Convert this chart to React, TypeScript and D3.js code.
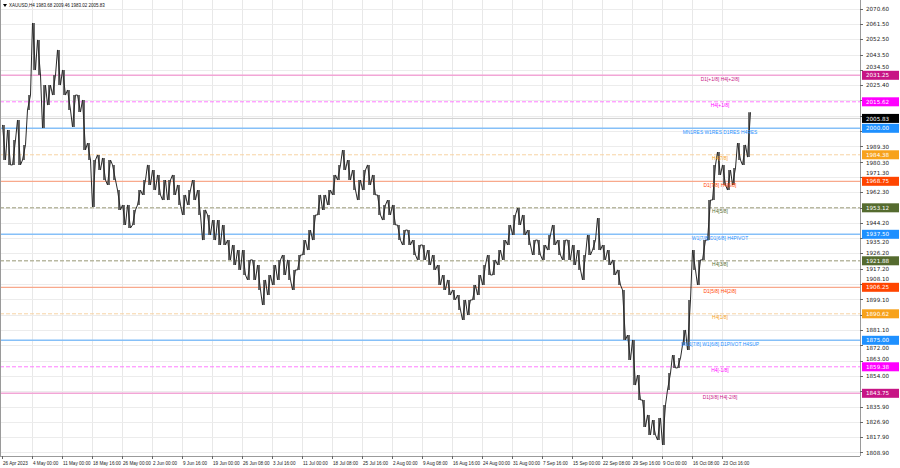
import React from 'react';
import * as d3 from 'd3';

// ---- data ----
const symbolTitle = 'XAUUSD,H4';
const lastBarOHLC = [1983.68, 2009.46, 1983.02, 2005.83];
const barsPerSample = 5;
const highs = [
  2002.0, 1999.0, 1993.1, 2004.9, 1990.2, 2019.6, 2062.1, 2052.1, 2025.5, 2025.5,
  2031.4, 2046.2, 2034.4, 2022.6, 2019.6, 2019.6, 2016.7, 1991.3, 1981.3, 1984.3,
  1982.5, 1981.3, 1978.4, 1963.6, 1954.8, 1954.8, 1951.9, 1963.6, 1969.5, 1978.4,
  1975.4, 1972.5, 1969.5, 1969.5, 1972.5, 1966.6, 1960.7, 1963.6, 1969.5, 1963.6,
  1951.9, 1948.9, 1945.9, 1945.9, 1943.0, 1934.1, 1931.2, 1928.2, 1928.2, 1922.4,
  1922.4, 1919.4, 1910.6, 1913.5, 1919.4, 1922.4, 1925.3, 1922.4, 1916.5, 1925.3,
  1934.1, 1940.0, 1948.9, 1960.7, 1960.7, 1963.6, 1972.5, 1978.4, 1987.2, 1981.3,
  1975.4, 1969.5, 1975.4, 1978.4, 1972.5, 1960.7, 1954.8, 1957.7, 1954.8, 1943.0,
  1940.0, 1940.0, 1934.1, 1931.2, 1931.2, 1928.2, 1925.3, 1919.4, 1913.5, 1910.6,
  1904.7, 1901.7, 1898.8, 1898.8, 1907.6, 1913.5, 1919.4, 1925.3, 1922.4, 1928.2,
  1934.1, 1943.0, 1948.9, 1953.0, 1948.9, 1940.0, 1934.1, 1934.1, 1931.2, 1937.1,
  1943.0, 1934.1, 1934.1, 1934.1, 1931.2, 1928.2, 1925.3, 1937.1, 1934.1, 1947.1,
  1931.2, 1928.2, 1922.4, 1916.5, 1904.7, 1878.1, 1875.2, 1854.5, 1839.8, 1831.0,
  1828.0, 1829.2, 1836.9, 1855.7, 1866.3, 1864.5, 1881.1, 1898.8, 1928.2, 1922.4,
  1934.1, 1957.7, 1978.4, 1986.0, 1978.4, 1975.4, 1976.6, 1991.3, 1990.2, 2009.46,
];
const lows = [
  1981.3, 1978.4, 1978.4, 1978.4, 1981.3, 2010.8, 2034.4, 2031.4, 2000.2, 2013.7,
  2019.6, 2025.5, 2019.6, 2010.8, 2000.8, 2009.6, 1987.2, 1981.3, 1953.6, 1975.4,
  1969.5, 1966.6, 1969.5, 1951.9, 1943.0, 1941.2, 1943.0, 1954.8, 1960.7, 1966.6,
  1963.6, 1960.7, 1957.7, 1957.7, 1960.7, 1954.8, 1948.9, 1954.8, 1957.7, 1948.9,
  1934.1, 1937.1, 1934.1, 1931.2, 1931.2, 1922.4, 1919.4, 1916.5, 1913.5, 1910.6,
  1910.6, 1904.7, 1895.8, 1901.7, 1907.6, 1910.6, 1913.5, 1910.6, 1904.7, 1916.5,
  1925.3, 1928.2, 1934.1, 1948.9, 1951.9, 1954.8, 1960.7, 1969.5, 1975.4, 1969.5,
  1963.6, 1957.7, 1963.6, 1966.6, 1960.7, 1948.9, 1945.9, 1948.9, 1943.0, 1934.1,
  1931.2, 1931.2, 1925.3, 1922.4, 1922.4, 1919.4, 1916.5, 1907.6, 1904.7, 1901.7,
  1898.8, 1892.9, 1887.0, 1889.9, 1898.8, 1901.7, 1907.6, 1913.5, 1913.5, 1919.4,
  1922.4, 1931.2, 1937.1, 1943.0, 1937.1, 1931.2, 1925.3, 1925.3, 1922.4, 1928.2,
  1931.2, 1925.3, 1922.4, 1922.4, 1919.4, 1916.5, 1910.6, 1925.3, 1928.2, 1928.2,
  1922.4, 1919.4, 1913.5, 1907.6, 1875.2, 1863.4, 1848.6, 1839.8, 1823.9, 1819.2,
  1819.2, 1816.2, 1813.3, 1845.7, 1858.7, 1858.7, 1872.2, 1869.3, 1916.5, 1907.6,
  1922.4, 1934.1, 1957.7, 1972.5, 1966.6, 1963.6, 1966.6, 1981.3, 1978.4, 1983.02,
];

const priceTicks = [
  2070.6, 2061.5, 2052.5, 2043.5, 2034.5, 2025.4, 2016.4, 2007.4, 1998.4, 1989.3,
  1980.3, 1971.3, 1962.3, 1953.2, 1944.2, 1935.2, 1926.2, 1917.2, 1908.1, 1899.1,
  1890.1, 1881.1, 1872.0, 1863.0, 1854.0, 1845.0, 1835.9, 1826.9, 1817.9, 1808.9,
];

const timeTickBars = [0, 30, 60, 90, 120, 150, 180, 210, 240, 270, 300, 330, 360, 390, 420, 450, 480, 510, 540, 570, 600, 630, 660, 690, 720];
const timeLabels = [
  '26 Apr 2023', '4 May 00:00', '11 May 00:00', '18 May 16:00', '26 May 00:00', '2 Jun 00:00',
  '9 Jun 16:00', '19 Jun 00:00', '26 Jun 08:00', '3 Jul 16:00', '11 Jul 00:00', '18 Jul 08:00',
  '25 Jul 16:00', '2 Aug 00:00', '9 Aug 08:00', '16 Aug 16:00', '24 Aug 00:00', '31 Aug 00:00',
  '7 Sep 16:00', '15 Sep 00:00', '22 Sep 08:00', '29 Sep 16:00', '9 Oct 00:00', '16 Oct 08:00',
  '23 Oct 16:00',
];

const levelPrices = [2031.25, 2015.62, 2000.0, 1984.38, 1968.75, 1953.12, 1937.5, 1921.88, 1906.25, 1890.62, 1875.0, 1859.38, 1843.75];
const levelNames = [
  'D1[+1/8] H4[+2/8]', 'H4[+1/8]', 'MN1RES W1RES D1RES H4RES', 'H4[7/8]', 'D1[7/8] H4[6/8]', 'H4[5/8]',
  'W1[7/8] D1[6/8] H4PIVOT', 'H4[3/8]', 'D1[5/8] H4[2/8]', 'H4[1/8]', 'MN1[7/8] W1[6/8] D1PIVOT H4SUP',
  'H4[-1/8]', 'D1[3/8] H4[-2/8]',
];
const levelKinds = ['d1x', 'h4x', 'blue', 'h4o', 'd1o', 'h4g', 'blue', 'h4g', 'd1o', 'h4o', 'blue', 'h4x', 'd1x'];

// ---- styles ----
const kindStyle: Record<string, { box: string; line: string; dash?: string; w: number }> = {
  d1x: { box: '#c71585', line: '#f2a6d6', w: 1.4 },
  h4x: { box: '#ff00ff', line: '#ff7cff', dash: '4,2', w: 1 },
  blue: { box: '#1e90ff', line: '#86c0f8', w: 1.5 },
  h4o: { box: '#f7a21b', line: '#f7d3a4', dash: '4,2', w: 1 },
  d1o: { box: '#ff4500', line: '#f8a98c', w: 1.2 },
  h4g: { box: '#556b2f', line: '#b9b9a2', dash: '4,2', w: 1.5 },
};

const AXFONT = '"DejaVu Sans", sans-serif';
const SMFONT = '"Liberation Sans", Arial, sans-serif';
const W = 900;
const H = 468;
const PR = 860; // plot right
const PB = 456; // plot bottom

export default function App() {
  const y = d3.scaleLinear().domain([2000, 1875]).range([128.3, 340.3]);
  const x = d3.scaleLinear().domain([0, 860]).range([2, 862]);
  const n = highs.length;
  const cx = (i: number) => x(i * barsPerSample + 2);
  const lastClose = lastBarOHLC[3];

  // zigzag path through sample highs/lows
  const pts: [number, number][] = [];
  for (let i = 0; i < n; i++) {
    const mid = (highs[i] + lows[i]) / 2;
    const nextMid = i < n - 1 ? (highs[i + 1] + lows[i + 1]) / 2 : mid;
    const up = nextMid >= mid;
    if (up) {
      pts.push([cx(i) - 1.5, y(lows[i])]);
      pts.push([cx(i) + 1.5, y(highs[i])]);
    } else {
      pts.push([cx(i) - 1.5, y(highs[i])]);
      pts.push([cx(i) + 1.5, y(lows[i])]);
    }
  }
  const line = d3.line()(pts) || '';

  // price-axis tick labels: hide those covered by a level box, nudge partial overlaps
  const boxYs = [...levelPrices, lastClose].map((p) => y(p));
  const tickLabelPos = priceTicks.map((p) => {
    let ty = y(p);
    let hidden = false;
    for (const by of boxYs) {
      const d = ty - by;
      if (Math.abs(d) < 3) hidden = true;
      else if (Math.abs(d) < 8) ty = by + Math.sign(d) * 8;
    }
    return { p, ty, hidden };
  });

  return (
    <svg width={W} height={H} style={{ position: 'absolute', left: 0, top: 0, background: '#fff' }}>
      <rect x={0} y={0} width={W} height={H} fill="#fff" />
      {/* grid */}
      {timeTickBars.slice(1).map((b) => (
        <line key={'vg' + b} x1={x(b) + 0.5} x2={x(b) + 0.5} y1={0} y2={PB} stroke="#e8e8e8" strokeWidth={1} />
      ))}
      {priceTicks.map((p) => (
        <line key={'hg' + p} x1={0} x2={PR} y1={Math.round(y(p)) + 0.5} y2={Math.round(y(p)) + 0.5} stroke="#ececec" strokeWidth={1} />
      ))}
      {/* levels */}
      {levelPrices.map((p, i) => {
        const s = kindStyle[levelKinds[i]];
        return <line key={'lv' + p} x1={0} x2={PR} y1={y(p)} y2={y(p)} stroke={s.line} strokeWidth={s.w} strokeDasharray={s.dash} />;
      })}
      {/* bid line */}
      <line x1={0} x2={PR} y1={y(lastClose)} y2={y(lastClose)} stroke="#cfcfcf" strokeWidth={1} />
      {/* price bars */}
      {highs.map((h, i) => (
        <line key={'b' + i} x1={cx(i)} x2={cx(i)} y1={y(h)} y2={y(lows[i])} stroke="#5a5a5a" strokeWidth={1.8} />
      ))}
      <path d={line} fill="none" stroke="#2a2a2a" strokeWidth={1} />
      {/* level labels */}
      {levelPrices.map((p, i) => {
        const s = kindStyle[levelKinds[i]];
        return (
          <text key={'lt' + p} x={720} y={y(p) + 5.2} fontSize={4.9} fontFamily={SMFONT} textAnchor="middle" fill={s.box}>
            {levelNames[i]}
          </text>
        );
      })}
      {/* frame */}
      <line x1={0.5} x2={0.5} y1={0} y2={PB} stroke="#9a9a9a" />
      <line x1={PR + 0.5} x2={PR + 0.5} y1={0} y2={PB} stroke="#9a9a9a" />
      <line x1={0} x2={PR} y1={PB + 0.5} y2={PB + 0.5} stroke="#9a9a9a" />
      {/* price axis */}
      {tickLabelPos.map(({ p, ty, hidden }) => (
        <g key={'pt' + p}>
          <line x1={PR} x2={PR + 3} y1={Math.round(y(p)) + 0.5} y2={Math.round(y(p)) + 0.5} stroke="#666" />
          {!hidden && (
            <text x={866} y={ty + 2.1} fontSize={5.6} fontFamily={AXFONT} fill="#222">
              {p.toFixed(2)}
            </text>
          )}
        </g>
      ))}
      {levelPrices.map((p, i) => {
        const s = kindStyle[levelKinds[i]];
        return (
          <g key={'lb' + p}>
            <rect x={862} y={y(p) - 4.5} width={37} height={9} fill={s.box} />
            <text x={866} y={y(p) + 2.1} fontSize={5.6} fontFamily={AXFONT} fill="#fff">
              {p.toFixed(2)}
            </text>
          </g>
        );
      })}
      <g>
        <rect x={862} y={y(lastClose) - 4.5} width={37} height={9} fill="#000" />
        <text x={866} y={y(lastClose) + 2.1} fontSize={5.6} fontFamily={AXFONT} fill="#fff">
          {lastClose.toFixed(2)}
        </text>
      </g>
      {/* time axis */}
      {timeTickBars.map((b, i) => (
        <g key={'tt' + b}>
          <line x1={x(b) + 0.5} x2={x(b) + 0.5} y1={PB} y2={PB + 3} stroke="#666" />
          <text x={x(b) + 1} y={465} fontSize={4.6} fontFamily={SMFONT} fill="#222">
            {timeLabels[i]}
          </text>
        </g>
      ))}
      {/* header */}
      <path d="M3,4 L7,4 L5,7 Z" fill="#000" />
      <text x={9} y={7.4} fontSize={4.5} fontFamily={SMFONT} fill="#111">
        {symbolTitle + '  ' + lastBarOHLC.map((v) => v.toFixed(2)).join(' ')}
      </text>
    </svg>
  );
}
